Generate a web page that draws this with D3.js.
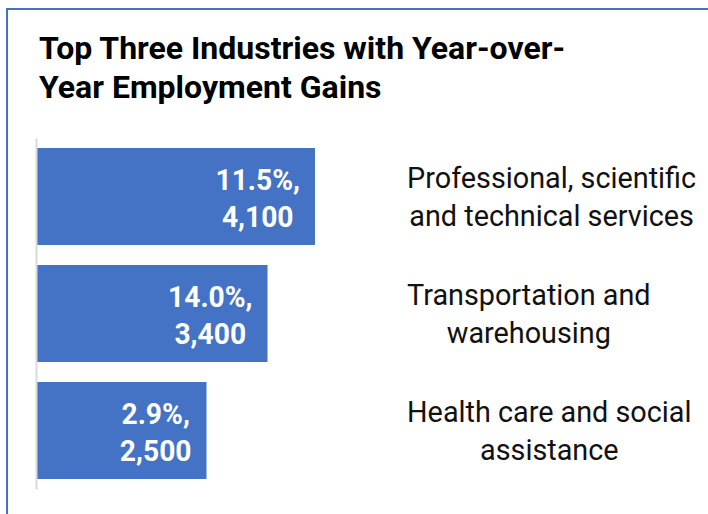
<!DOCTYPE html>
<html><head><meta charset="utf-8">
<script src="https://cdn.jsdelivr.net/npm/d3@7"></script>
<style>html,body{margin:0;padding:0;background:#fff;}svg{display:block;font-family:Roboto,"Noto Sans",sans-serif;}</style>
</head><body>
<div id="chart"></div>
<script>
const titleLines = ["Top Three Industries with Year-over-", "Year Employment Gains"];
const categories = [
  ["Professional, scientific", "and technical services"],
  ["Transportation and", "warehousing"],
  ["Health care and social", "assistance"]
];
const jobs = [4100, 3400, 2500];
const pctChange = ["11.5%", "14.0%", "2.9%"];
const jobLabels = ["4,100", "3,400", "2,500"];

const W = 708, H = 514;
const svg = d3.select("#chart").append("svg").attr("width", W).attr("height", H);

// border (top + left)
svg.append("path").attr("d", `M7,${H} L7,9 L${W},9`).attr("fill","none")
  .attr("stroke","#4472C4").attr("stroke-width",2);

// title
svg.append("g").selectAll("text").data(titleLines).join("text")
  .attr("x", 39).attr("y", (d,i)=>59 + i*39)
  .attr("font-size", 32).attr("font-weight", 700).attr("fill","#000")
  .text(d=>d);

const ids = d3.range(categories.length);
const y = d3.scaleBand().domain(ids).range([138, 489]).paddingInner(0.171).paddingOuter(0.0855);
const x = d3.scaleLinear().domain([0, 5000]).range([37, 376]);

// bars
svg.append("g").selectAll("rect").data(ids).join("rect")
  .attr("x", x(0)).attr("y", i=>y(i))
  .attr("width", i=>x(jobs[i]) - x(0)).attr("height", y.bandwidth())
  .attr("fill", "#4472C4");

// axis line
const axis = svg.append("g").attr("transform", `translate(${x(0)-1},0)`)
  .call(d3.axisLeft(y).tickSize(0).tickFormat(""));
axis.select(".domain").attr("stroke", "#d9d9d9").attr("stroke-width", 2);

function block(g, lines, anchorX, alignRight, cy, size, weight, color, kx, off, gap) {
  const t = g.selectAll("text").data(lines).join("text")
    .attr("font-size", size).attr("font-weight", weight).attr("fill", color)
    .attr("text-anchor", "middle").text(d=>d);
  let maxW = 0;
  t.each(function(){ maxW = Math.max(maxW, this.getComputedTextLength()*kx); });
  const cx = alignRight ? anchorX - maxW/2 : anchorX + maxW/2;
  t.attr("transform", (d,i)=>`translate(${cx},${cy + off + i*gap}) scale(${kx},1)`);
}

ids.forEach(i=>{
  const cy = y(i) + y.bandwidth()/2;
  block(svg.append("g"), [pctChange[i] + ",", jobLabels[i]], x(jobs[i]) - 15, true, cy, 30, 700, "#fff", 0.94, -7, 37);
  block(svg.append("g"), categories[i], 407, false, cy, 30, 400, "#111", 0.96, -9, 38.5);
});
</script>
</body></html>
